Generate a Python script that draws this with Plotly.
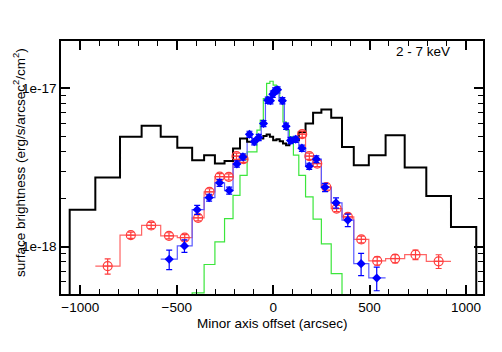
import plotly.graph_objects as go

# bin edges (arcsec) shared by the broad profile, PSF model and red profile
edges = [-1055, -922, -794, -682, -583, -497, -420, -358, -302, -252, -208, -172, -135,
         -105, -84, -67, -51, -34, -17, 0, 17, 34, 51, 67, 84, 105, 133, 168, 207, 250,
         301, 357, 418, 496, 583, 682, 794, 922, 1053]

# black histogram (one value per bin)
black_vals = [1.71e-18, 2.73e-18, 4.95e-18, 5.80e-18, 4.95e-18, 4.21e-18, 3.52e-18, 3.78e-18,
              3.35e-18, 3.48e-18, 4.17e-18, 4.83e-18, 4.60e-18, 4.66e-18, 4.83e-18, 4.83e-18,
              5.01e-18, 5.12e-18, 4.95e-18, 4.71e-18, 4.77e-18, 4.64e-18, 4.49e-18, 4.38e-18,
              4.60e-18, 4.71e-18, 5.31e-18, 6.00e-18, 7.02e-18, 7.37e-18, 6.52e-18, 4.27e-18,
              3.27e-18, 3.78e-18, 5.06e-18, 3.16e-18, 2.09e-18, 1.33e-18]

# green PSF model, bins from -420 to 357
green_edges = [-420, -358, -302, -252, -208, -172, -135, -105, -84, -67, -51, -34, -17, 0,
               17, 34, 51, 67, 84, 105, 133, 168, 207, 250, 301, 357]
green_vals = [5.1e-19, 7.7e-19, 1.07e-18, 1.50e-18, 2.11e-18, 2.82e-18, 3.97e-18, 3.97e-18,
              5.45e-18, 6.3e-18, 8.64e-18, 1.075e-17, 1.11e-17, 1.05e-17, 1.0e-17, 8.4e-18,
              6.15e-18, 5.45e-18, 4.94e-18, 3.79e-18, 2.82e-18, 2.06e-18, 1.49e-18, 1.04e-18,
              6.75e-19]

# red profile (open circles), two wings
red_edges_l = [-922, -794, -682, -583, -497, -420, -358, -302, -252, -208, -172, -135]
red_vals_l = [7.53e-19, 1.18e-18, 1.36e-18, 1.17e-18, 1.14e-18, 1.52e-18, 2.22e-18, 2.77e-18,
              2.76e-18, 3.73e-18, 3.57e-18]
red_edges_r = [133, 168, 207, 250, 301, 357, 418, 496, 583, 682, 794, 922]
red_vals_r = [5.14e-18, 3.73e-18, 3.35e-18, 2.38e-18, 1.74e-18, 1.54e-18, 1.11e-18, 8.11e-19,
              8.40e-19, 8.89e-19, 8.07e-19]
red_err_l = [0.11, 0.045, 0.045, 0.045, 0.045, 0.045, 0.045, 0.045, 0.045, 0.045, 0.045]
red_err_r = [0.045, 0.045, 0.045, 0.045, 0.045, 0.05, 0.05, 0.06, 0.06, 0.07, 0.1]

# blue profile (filled diamonds), finer bins at centre
blue_edges = [-583, -497, -420, -358, -302, -252, -208, -172, -135, -110, -86, -62, -40, -22,
              -8, 4, 16, 30, 58, 78, 104, 133, 168, 207, 250, 301, 357, 418, 496, 583]
blue_x = [-539, -460, -394, -332, -278, -228, -188, -157, -123, -98, -75, -50, -28, -14, -2,
          10, 23, 48, 67, 90, 117, 149, 187, 224, 269, 326, 387, 456, 537]
blue_vals = [8.32e-19, 1.01e-18, 1.71e-18, 2.04e-18, 2.53e-18, 2.26e-18, 3.33e-18, 3.69e-18,
             5.13e-18, 4.60e-18, 4.9e-18, 6.0e-18, 8.43e-18, 8.37e-18, 9.2e-18, 9.66e-18,
             9.8e-18, 8.37e-18, 5.77e-18, 4.69e-18, 4.77e-18, 4.19e-18, 3.22e-18, 3.57e-18,
             2.37e-18, 1.89e-18, 1.47e-18, 7.8e-19, 6.33e-19]
blue_err = [0.14, 0.09, 0.065, 0.05, 0.05, 0.05, 0.045, 0.045, 0.045, 0.045, 0.045, 0.045,
            0.045, 0.045, 0.045, 0.045, 0.045, 0.045, 0.045, 0.045, 0.045, 0.045, 0.045, 0.05,
            0.06, 0.075, 0.09, 0.16, 0.17]

FLOOR = 1e-21


def centers(e):
    return [(a + b) / 2 for a, b in zip(e[:-1], e[1:])]


def step(e, v, drop=False):
    xs = list(e)
    ys = list(v) + [v[-1]]
    if drop:
        xs = [e[0]] + xs + [e[-1]]
        ys = [FLOOR] + ys + [FLOOR]
    return xs, ys


RED = 'rgb(255,60,60)'
BLUE = 'rgb(0,0,255)'

fig = go.Figure()

gx, gy = step(green_edges, green_vals, drop=True)
fig.add_trace(go.Scatter(x=gx, y=gy, mode='lines', line_shape='hv',
                         line=dict(color='rgb(60,230,60)', width=1.2)))

rx1, ry1 = step(red_edges_l, red_vals_l)
rx2, ry2 = step(red_edges_r, red_vals_r)
fig.add_trace(go.Scatter(x=rx1 + [None] + rx2, y=ry1 + [None] + ry2, mode='lines',
                         line_shape='hv', line=dict(color='rgb(255,100,100)', width=1.2)))

bx, by = step(blue_edges, blue_vals)
fig.add_trace(go.Scatter(x=bx, y=by, mode='lines', line_shape='hv',
                         line=dict(color='rgb(90,90,255)', width=1.2)))

kx, ky = step(edges, black_vals, drop=True)
fig.add_trace(go.Scatter(x=kx, y=ky, mode='lines', line_shape='hv',
                         line=dict(color='black', width=2)))

red_x = centers(red_edges_l) + centers(red_edges_r)
red_y = red_vals_l + red_vals_r
red_e = [v * f for v, f in zip(red_y, red_err_l + red_err_r)]
fig.add_trace(go.Scatter(x=red_x, y=red_y, mode='markers',
                         marker=dict(symbol='circle-open', size=9, color=RED,
                                     line=dict(width=1.2, color=RED)),
                         error_y=dict(type='data', array=red_e, color=RED, thickness=1.2, width=3),
                         error_x=dict(type='constant', value=22, color=RED, thickness=1.2, width=0)))

blue_e = [v * f for v, f in zip(blue_vals, blue_err)]
fig.add_trace(go.Scatter(x=blue_x, y=blue_vals, mode='markers',
                         marker=dict(symbol='diamond', size=7, color=BLUE),
                         error_y=dict(type='data', array=blue_e, color=BLUE, thickness=1.2, width=3),
                         error_x=dict(type='constant', value=18, color=BLUE, thickness=1.2, width=0)))

minor_y = [m * 10 ** p for p in (-19, -18, -17) for m in range(2, 10)]

# page body adds an 8px margin, so the figure is shrunk to fit the 502x352 window
fig.update_layout(
    width=494, height=344,
    margin=dict(l=53, r=19, t=33, b=58, autoexpand=False),
    plot_bgcolor='white', paper_bgcolor='white',
    showlegend=False,
    font=dict(family='Liberation Sans, Arial, sans-serif', size=13, color='black'),
    xaxis=dict(range=[-1100, 1088], showgrid=False, zeroline=False, automargin=False,
               showline=True, linecolor='black', linewidth=1.5, mirror='ticks',
               ticks='inside', ticklen=9, tickwidth=1.5, tickcolor='black',
               tickvals=[-1000, -500, 0, 500, 1000],
               minor=dict(ticks='inside', ticklen=5, tickwidth=1.2, tickcolor='black', dtick=100, tick0=0),
               tickfont=dict(size=13.5)),
    yaxis=dict(type='log', range=[-18.30, -16.70], showgrid=False, zeroline=False, automargin=False,
               showline=True, linecolor='black', linewidth=1.5, mirror='ticks',
               ticks='inside', ticklen=9, tickwidth=1.5, tickcolor='black',
               tickvals=[1e-18, 1e-17], ticktext=['1e-18', '1e-17'],
               minor=dict(ticks='inside', ticklen=5, tickwidth=1.2, tickcolor='black',
                          tickmode='array', tickvals=minor_y),
               tickfont=dict(size=13.5)),
    annotations=[
        dict(text='2 - 7 keV', x=0.927, y=0.957, xref='paper', yref='paper',
             xanchor='right', yanchor='middle', showarrow=False, font=dict(size=13.5)),
        dict(text='Minor axis offset (arcsec)', x=0.5, y=-0.115, xref='paper', yref='paper',
             xanchor='center', yanchor='middle', showarrow=False, font=dict(size=13.5)),
        dict(text='surface brightness (erg/s/arcsec<sup>2</sup>/cm<sup>2</sup>)',
             x=-0.098, y=0.52, xref='paper', yref='paper', textangle=-90,
             xanchor='center', yanchor='middle', showarrow=False, font=dict(size=13.5)),
    ],
)

fig.write_html("out.html")
